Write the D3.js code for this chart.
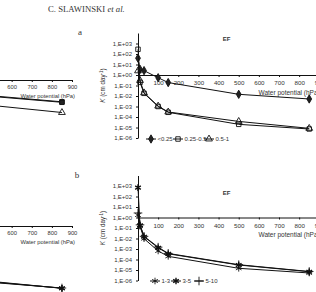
<!DOCTYPE html>
<html>
  <head>
    <meta charset="utf-8">
    <title>Hydraulic conductivity K(h)</title>
    <script src="https://cdn.jsdelivr.net/npm/d3@7"></script>
    <style>
      body { margin: 0; background: #fff; }
      svg { display: block; font-family: "Liberation Sans", Arial, sans-serif; }
      .domain, .tick line { stroke: #111; }
      .tick text { fill: #333; }
      .curve { fill: none; stroke: #111; stroke-width: 1; }
      .label { fill: #333; }
    </style>
  </head>
  <body>
    <svg id="chart" width="316" height="292"></svg>
    <script>
      // water potential steps (hPa)
      var heads = [0, 10, 30, 100, 150, 500, 850];
      var xTicks = [100, 200, 300, 400, 500, 600, 700, 800, 900];
      var yTicks = [1e-6, 1e-5, 1e-4, 1e-3, 1e-2, 1e-1, 1e0, 1e1, 1e2, 1e3];

      // panel a: aggregate size classes
      var namesA = ["<0.25", "0.25-0.5", "0.5-1"];
      var kA1 = [40, 3.5, 2.6, 0.55, 0.19, 0.0145, 0.0052];
      var kA2 = [280, 0.2, 0.018, 0.001, 0.00028, 0.00002, 0.0000072];
      var kA3 = [2.5, 0.3, 0.02, 0.0011, 0.0003, 0.000038, 0.0000083];

      // panel b: aggregate size classes
      var namesB = ["1-3", "3-5", "5-10"];
      var kB1 = [1.7, 0.15, 0.0096, 0.00065, 0.0002, 0.0000145, 0.0000052];
      var kB2 = [700, 0.18, 0.015, 0.0013, 0.00035, 0.00003, 0.0000069];
      var kB3 = [2.7, 0.2, 0.016, 0.0015, 0.00038, 0.000032, 0.0000072];

      // left (cut off) panels, only the last steps show
      var headsLeft = [500, 850];
      var xTicksLeft = [600, 700, 800, 900];
      var wLa1 = [0.442, 0.382];
      var wLa2 = [0.436, 0.377];
      var wLa3 = [0.346, 0.275];
      var wLb1 = [0.186, 0.117];
      var wLb2 = [0.181, 0.118];
      var wLb3 = [0.176, 0.12];

      var svg = d3.select("#chart");

      function expLabel(d) {
        var e = Math.round(Math.log10(d));
        return "1,E" + (e < 0 ? "-" : "+") + String(Math.abs(e)).padStart(2, "0");
      }

      function marker(g, kind, x, y) {
        var sym = {
          diamond: d3.symbolDiamond, square: d3.symbolSquare, solidsquare: d3.symbolSquare,
          triangle: d3.symbolTriangle, star: d3.symbolAsterisk, star2: d3.symbolAsterisk, plus: d3.symbolPlus
        }[kind];
        var size = { diamond: 20, square: 20, solidsquare: 20, triangle: 20, star: 30, star2: 30, plus: 26 }[kind];
        var filled = kind == "diamond" || kind == "plus" || kind == "solidsquare";
        g.append("path")
          .attr("d", d3.symbol().type(sym).size(size)())
          .attr("transform", "translate(" + x + "," + y + ")")
          .attr("fill", filled ? "#222" : "none")
          .attr("stroke", "#111")
          .attr("stroke-width", kind == "star2" ? 1.4 : 0.9);
      }

      function fontify(sel, size) {
        sel.attr("font-size", size).attr("font-family", null);
      }

      function rightPanel(zero, series, names, kinds, legendY, efY) {
        var g = svg.append("g");
        var x = d3.scaleLinear().domain([0, 900]).range([138, 319.3]);
        var y = d3.scaleLog().domain([1e-6, 1e4]).range([zero + 6 * 10.5, zero - 4 * 10.5]);
        var yAxis = d3.axisLeft(y).tickValues(yTicks).tickFormat(expLabel)
          .tickSizeInner(2).tickSizeOuter(0).tickPadding(4);
        g.append("g")
          .attr("transform", "translate(" + x(0) + ",0)")
          .call(yAxis)
          .call(fontify, 6);
        var xAxis = d3.axisBottom(x).tickValues(xTicks).tickSizeInner(2).tickSizeOuter(0).tickPadding(4);
        g.append("g")
          .attr("transform", "translate(0," + y(1) + ")")
          .call(xAxis)
          .call(fontify, 6.2);
        g.append("text").attr("class", "label")
          .attr("x", 258.5).attr("y", y(1) + 19.5)
          .attr("font-size", 6.5)
          .text("Water potential (hPa)");
        g.append("text").attr("class", "label")
          .attr("x", 226.5).attr("y", efY)
          .attr("font-size", 6).attr("font-weight", "bold").attr("text-anchor", "middle")
          .text("EF");
        var ky = (y(1e-6) + y(1e4)) / 2;
        var kl = g.append("text").attr("class", "label")
          .attr("transform", "translate(104.5," + ky + ") rotate(-90)")
          .attr("font-size", 6.3).attr("text-anchor", "middle");
        kl.append("tspan").attr("font-style", "italic").text("K");
        kl.append("tspan").text(" (cm day");
        kl.append("tspan").attr("dy", -2).attr("font-size", 4.5).text("-1");
        kl.append("tspan").attr("dy", 2).text(")");

        var line = d3.line().x(function(d) { return x(d[0]); }).y(function(d) { return y(d[1]); });
        series.forEach(function(ks, i) {
          var pts = heads.map(function(h, j) { return [h, ks[j]]; });
          g.append("path").attr("class", "curve").attr("d", line(pts));
          pts.forEach(function(p) { marker(g, kinds[i], x(p[0]), y(p[1])); });
        });

        // legend
        var lx = [146, 173, 204];
        if (kinds[0] == "star") lx = [150, 171, 194];
        names.forEach(function(n, i) {
          g.append("line").attr("x1", lx[i]).attr("x2", lx[i] + 10)
            .attr("y1", legendY).attr("y2", legendY)
            .attr("stroke", "#111");
          marker(g, kinds[i], lx[i] + 5, legendY);
          g.append("text").attr("class", "label")
            .attr("x", lx[i] + 11.5).attr("y", legendY + 2.2)
            .attr("font-size", 6).text(n);
        });
      }

      function leftPanel(axisY, yBase, series, kinds) {
        var g = svg.append("g");
        var x = d3.scaleLinear().domain([0, 900]).range([-109, 72]);
        var y = d3.scaleLinear().domain([0, 0.6]).range([yBase, yBase - 60]);
        var xAxis = d3.axisBottom(x).tickValues(xTicksLeft).tickSizeInner(2).tickSizeOuter(0).tickPadding(3);
        g.append("g")
          .attr("transform", "translate(0," + axisY + ")")
          .call(xAxis)
          .call(fontify, 5.8);
        g.append("text").attr("class", "label")
          .attr("x", 75).attr("y", axisY + 17.5)
          .attr("font-size", 5.8).attr("text-anchor", "end")
          .text("Water potential (hPa)");
        var line = d3.line().x(function(d) { return x(d[0]); }).y(function(d) { return y(d[1]); });
        series.forEach(function(ws, i) {
          var pts = headsLeft.map(function(h, j) { return [h, ws[j]]; });
          g.append("path").attr("class", "curve").attr("d", line(pts));
          pts.forEach(function(p) { marker(g, kinds[i], x(p[0]), y(p[1])); });
        });
      }

      // page header and panel letters
      var head = svg.append("text").attr("x", 48).attr("y", 12)
        .attr("font-family", "'Liberation Serif', serif").attr("font-size", 8.7).attr("fill", "#333");
      head.append("tspan").text("C. SLAWINSKI ");
      head.append("tspan").attr("font-style", "italic").text("et al.");
      svg.append("text").attr("x", 80).attr("y", 35)
        .attr("font-family", "'Liberation Serif', serif").attr("font-size", 9).attr("fill", "#333")
        .attr("text-anchor", "middle").text("a");
      svg.append("text").attr("x", 77).attr("y", 178)
        .attr("font-family", "'Liberation Serif', serif").attr("font-size", 9).attr("fill", "#333")
        .attr("text-anchor", "middle").text("b");

      leftPanel(80, 140, [wLa1, wLa2, wLa3], ["solidsquare", "solidsquare", "triangle"]);
      leftPanel(226, 300, [wLb1, wLb2, wLb3], ["star", "star2", "plus"]);
      rightPanel(75, [kA1, kA2, kA3], namesA, ["diamond", "square", "triangle"], 139, 41);
      rightPanel(217.5, [kB1, kB2, kB3], namesB, ["star", "star2", "plus"], 281, 195);
    </script>
  </body>
</html>
